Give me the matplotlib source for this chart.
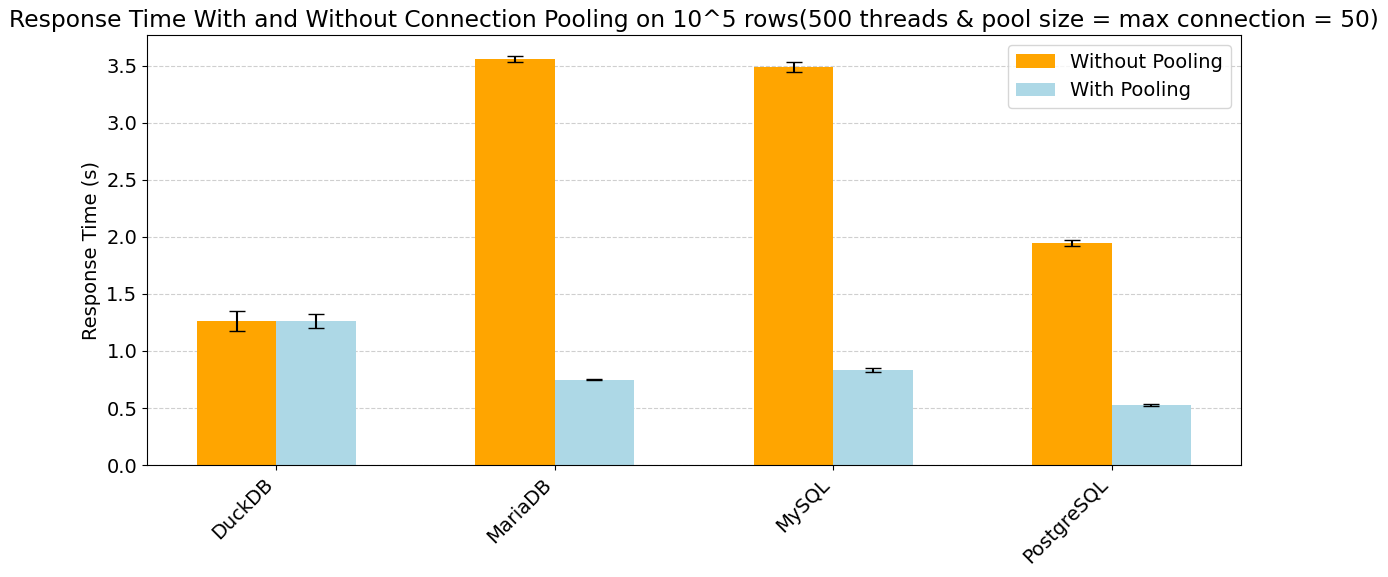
import matplotlib
matplotlib.use('Agg')
import matplotlib.pyplot as plt
import numpy as np

databases = ['DuckDB', 'MariaDB', 'MySQL', 'PostgreSQL']
without_pooling = [1.265, 3.56, 3.49, 1.947]
without_err = [0.088, 0.029, 0.04, 0.025]
with_pooling = [1.263, 0.748, 0.833, 0.526]
with_err = [0.064, 0.004, 0.02, 0.008]

plt.rcParams['font.size'] = 14

fig, ax = plt.subplots(figsize=(13.88, 5.77), dpi=100)
x = np.arange(len(databases))
width = 0.285

ax.bar(x - width / 2, without_pooling, width, yerr=without_err, capsize=6,
       color='orange', label='Without Pooling')
ax.bar(x + width / 2, with_pooling, width, yerr=with_err, capsize=6,
       color='lightblue', label='With Pooling')

ax.set_ylabel('Response Time (s)')
ax.set_title('Response Time With and Without Connection Pooling on 10^5 rows'
             '(500 threads & pool size = max connection = 50)', fontsize=16.85)
ax.set_xticks(x)
ax.set_xticklabels(databases, rotation=45, ha='right')
ax.grid(axis='y', linestyle='--', alpha=0.6)
ax.set_axisbelow(True)
ax.legend(loc='upper right')

plt.subplots_adjust(left=0.106, right=0.894, top=0.939, bottom=0.194)
plt.savefig('out.png', dpi=100)
plt.close()
